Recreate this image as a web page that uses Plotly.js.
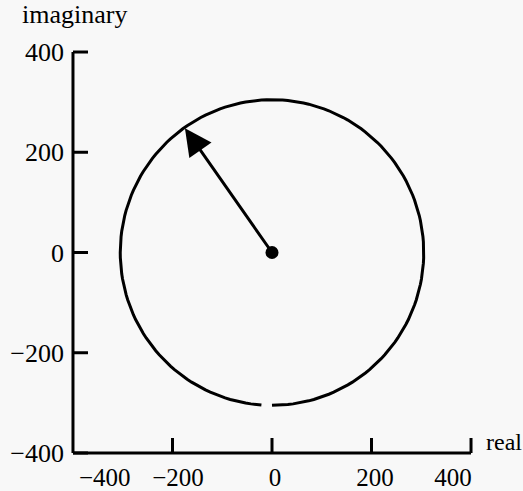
<!DOCTYPE html>
<html>
<head>
<meta charset="utf-8">
<script src="https://cdn.plot.ly/plotly-3.0.1.min.js"></script>
<style>html,body{margin:0;padding:0;background:#f8f8f8;}#chart{width:523px;height:491px;}</style>
</head>
<body>
<div id="chart"></div>
<script>
// ---- data ----
const axisTicks = [-400, -200, 0, 200, 400];
const axisTickText = ['\u2212400', '\u2212200', '0', '200', '400'];
const xTickMarks = [-200, 0, 200, 400];
// where the x tick labels sit along the real axis (as printed in the figure)
const xLabelAnchors = [-336, -189, 6, 207, 364];
const circleRadius = [305];
const circleGapDeg = [-90, 266]; // start / end angle of the drawn circle (gap at bottom)
const centerPoint = {x: [0], y: [0]};
const phasorTip = {x: [-175], y: [248]};
const yTitle = 'imaginary';
const xTitle = 'real';

// ---- circle built from its radius ----
const R = circleRadius[0];
const cx = [], cy = [];
for (let a = circleGapDeg[0]; a <= circleGapDeg[1]; a += 2) {
  const t = a * Math.PI / 180;
  cx.push(R * Math.cos(t));
  cy.push(R * Math.sin(t));
}

const font = {family: 'Liberation Serif, Times New Roman, serif', size: 26, color: '#000'};
const xfont = {family: font.family, size: 25, color: '#000'};
const rng = [-410, 410];
const axPos = (axisTicks[0] - rng[0]) / (rng[1] - rng[0]);
const origin = axisTicks[0];
const TL = 15; // tick length in px
const lineStyle = {color: '#000', width: 3};

const shapes = [
  {type: 'line', xref: 'x', yref: 'y', x0: origin, x1: origin, y0: origin, y1: axisTicks[4], line: lineStyle},
  {type: 'line', xref: 'x', yref: 'y', x0: origin, x1: axisTicks[4], y0: origin, y1: origin, line: lineStyle}
];
axisTicks.forEach(v => shapes.push({
  type: 'line', xref: 'x', yref: 'y', xsizemode: 'pixel', xanchor: origin,
  x0: 0, x1: TL, y0: v, y1: v, line: lineStyle
}));
xTickMarks.forEach(v => shapes.push({
  type: 'line', xref: 'x', yref: 'y', ysizemode: 'pixel', yanchor: origin,
  y0: 0, y1: TL, x0: v, x1: v, line: lineStyle
}));

const traces = [
  {x: cx, y: cy, mode: 'lines', line: {color: '#000', width: 3}, hoverinfo: 'skip', showlegend: false},
  {x: centerPoint.x, y: centerPoint.y, mode: 'markers', marker: {color: '#000', size: 13}, showlegend: false},
  {x: [0], y: [0], xaxis: 'x2', mode: 'markers', marker: {opacity: 0}, showlegend: false, hoverinfo: 'skip'}
];

const layout = {
  width: 523, height: 491,
  margin: {l: 68, r: 47, t: 47, b: 33},
  paper_bgcolor: '#f8f8f8', plot_bgcolor: '#f8f8f8',
  font: font,
  showlegend: false,
  xaxis: {
    range: rng, showgrid: false, zeroline: false, showline: false,
    ticks: '', showticklabels: false, fixedrange: true
  },
  xaxis2: {
    overlaying: 'x', side: 'bottom', range: rng,
    anchor: 'free', position: axPos,
    showgrid: false, zeroline: false, showline: false, ticks: '',
    tickvals: xLabelAnchors, ticktext: axisTickText, tickfont: xfont,
    ticklabelstandoff: 7, fixedrange: true
  },
  yaxis: {
    range: rng, showgrid: false, zeroline: false, showline: false,
    anchor: 'free', position: axPos,
    ticks: '', tickvals: axisTicks, ticktext: axisTickText, tickfont: font,
    ticklabelstandoff: 9, fixedrange: true
  },
  shapes: shapes,
  annotations: [
    {x: phasorTip.x[0], y: phasorTip.y[0], ax: centerPoint.x[0], ay: centerPoint.y[0],
     xref: 'x', yref: 'y', axref: 'x', ayref: 'y', text: '', showarrow: true,
     arrowhead: 2, arrowsize: 1.8, arrowwidth: 3, arrowcolor: '#000', standoff: 0},
    {text: yTitle, xref: 'paper', yref: 'paper', x: -0.118, y: 1.08,
     xanchor: 'left', yanchor: 'middle', showarrow: false, font: font},
    {text: xTitle, xref: 'paper', yref: 'paper', x: 1.02, y: 0.04,
     xanchor: 'left', yanchor: 'middle', showarrow: false,
     font: {family: font.family, size: 24, color: '#000'}}
  ]
};

Plotly.newPlot('chart', traces, layout, {displayModeBar: false, staticPlot: true});
</script>
</body>
</html>
